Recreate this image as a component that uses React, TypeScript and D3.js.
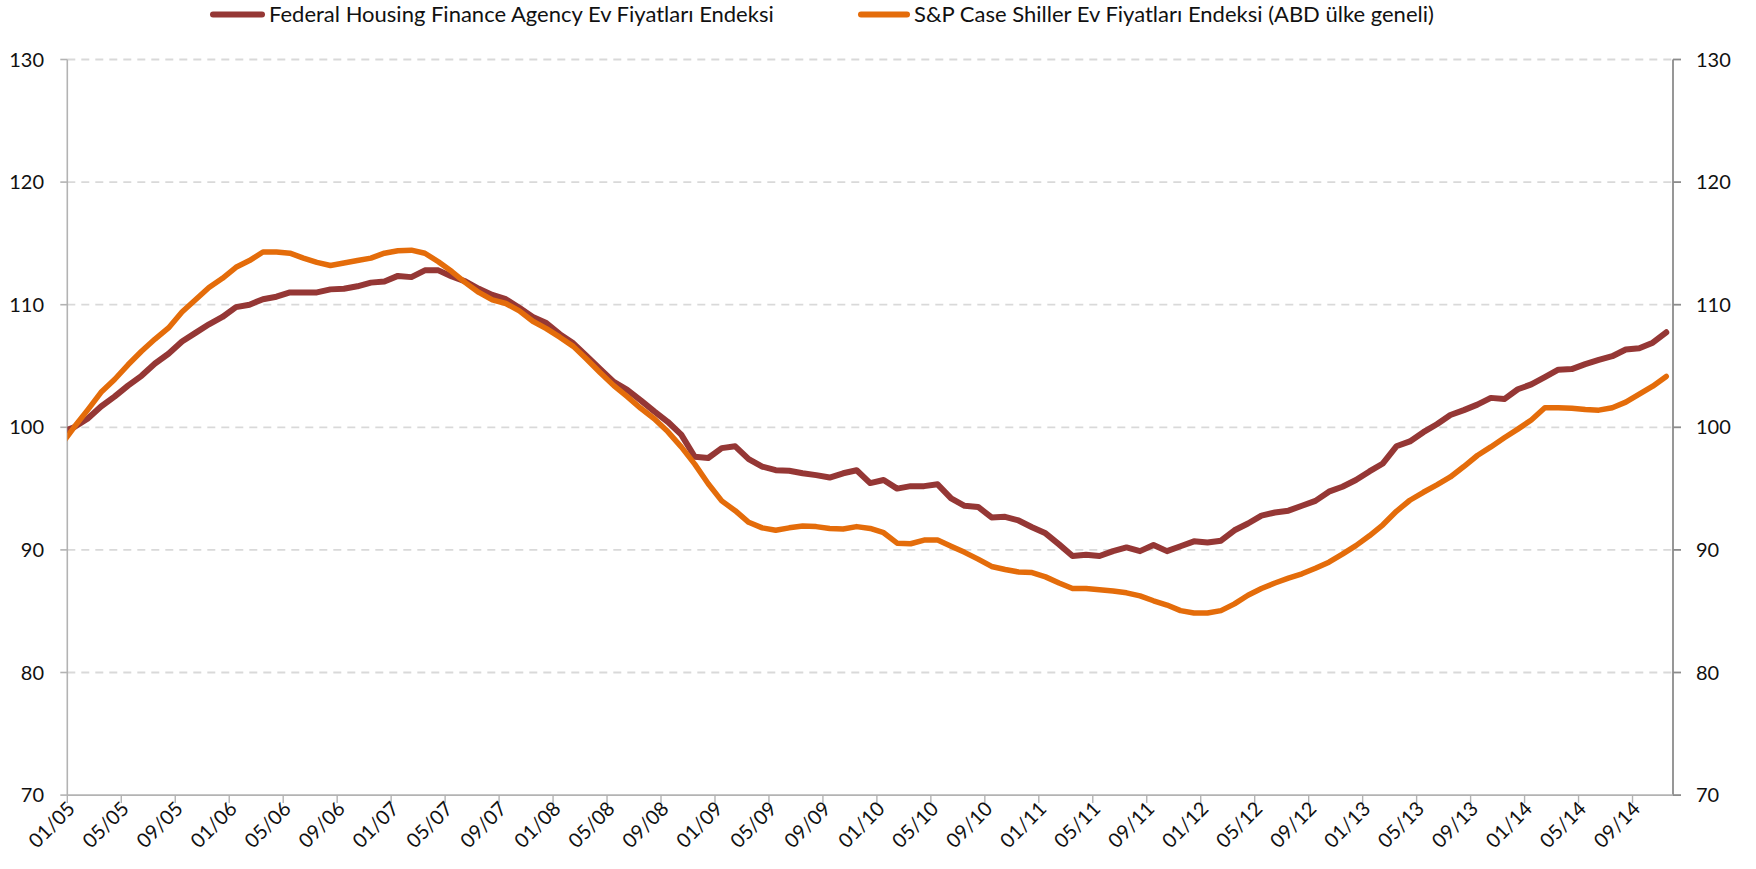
import React from "react";
import * as d3 from "d3";

const tickLabels = ["01/05","05/05","09/05","01/06","05/06","09/06","01/07","05/07","09/07","01/08","05/08","09/08","01/09","05/09","09/09","01/10","05/10","09/10","01/11","05/11","09/11","01/12","05/12","09/12","01/13","05/13","09/13","01/14","05/14","09/14"];

const yTicks = [70, 80, 90, 100, 110, 120, 130];

// monthly values, Dec 2004 .. Nov 2014
const fhfa = [99.6,
  100.0,100.7,101.7,102.5,103.4,104.2,105.2,106.0,107.0,107.7,108.4,109.0,
  109.8,110.0,110.45,110.65,111.0,111.0,111.0,111.25,111.3,111.5,111.8,111.9,
  112.35,112.25,112.8,112.8,112.3,111.9,111.3,110.8,110.45,109.75,109.0,108.5,
  107.6,106.85,105.8,104.75,103.7,103.05,102.2,101.3,100.45,99.4,97.6,97.5,
  98.3,98.45,97.4,96.8,96.5,96.45,96.25,96.1,95.9,96.25,96.5,95.45,
  95.7,95.0,95.2,95.2,95.35,94.2,93.6,93.5,92.65,92.7,92.4,91.85,
  91.35,90.45,89.5,89.6,89.5,89.9,90.2,89.9,90.4,89.9,90.3,90.7,
  90.6,90.75,91.6,92.15,92.8,93.05,93.2,93.6,94.0,94.75,95.15,95.7,
  96.4,97.05,98.45,98.85,99.6,100.25,101.0,101.4,101.85,102.4,102.3,103.1,
  103.5,104.1,104.7,104.75,105.15,105.5,105.8,106.35,106.45,106.9,107.75];

const caseShiller = [98.5,
  100.0,101.4,102.85,103.9,105.1,106.2,107.2,108.1,109.4,110.4,111.4,112.15,
  113.05,113.6,114.3,114.3,114.2,113.8,113.45,113.2,113.4,113.6,113.8,114.2,
  114.4,114.45,114.2,113.5,112.7,111.8,111.0,110.4,110.1,109.5,108.65,108.05,
  107.35,106.6,105.55,104.45,103.4,102.5,101.55,100.7,99.65,98.4,97.0,95.4,
  94.0,93.2,92.25,91.8,91.6,91.8,91.95,91.9,91.75,91.7,91.9,91.75,
  91.4,90.55,90.5,90.8,90.8,90.3,89.8,89.25,88.65,88.4,88.2,88.15,
  87.8,87.3,86.85,86.85,86.75,86.65,86.5,86.25,85.85,85.5,85.05,84.85,
  84.85,85.05,85.6,86.3,86.85,87.3,87.7,88.05,88.5,89.0,89.65,90.35,
  91.15,92.05,93.15,94.05,94.7,95.3,95.95,96.8,97.7,98.4,99.15,99.85,
  100.6,101.6,101.6,101.55,101.45,101.4,101.6,102.05,102.7,103.35,104.15];

const seriesNames = ["Federal Housing Finance Agency Ev Fiyatları Endeksi", "S&P Case Shiller Ev Fiyatları Endeksi (ABD ülke geneli)"];
const seriesColors = ["#953735", "#E46C0A"];

const W = 1756, H = 869;
const L = 67.3, R = 1673, T = 59.5, B = 795.1;
const FONT = "Lato, 'Open Sans', sans-serif";

export default function App() {
  const x = d3.scaleLinear().domain([0, 119]).range([L, R]);
  const y = d3.scaleLinear().domain([70, 130]).range([B, T]);
  const line = d3.line<number>()
    .x((_, i) => x(i - 0.5))
    .y((d) => y(d));
  const allSeries = [fhfa, caseShiller];
  const widths = [6, 5.5];

  return (
    <svg width={W} height={H} style={{ position: "absolute", left: 0, top: 0, background: "#fff" }} fontFamily={FONT}>
      <defs>
        <clipPath id="plot">
          <rect x={L} y={0} width={R - L} height={H} />
        </clipPath>
      </defs>
      {/* gridlines */}
      {yTicks.filter(v => v > 70).map(v => (
        <line key={v} x1={L} x2={R} y1={y(v)} y2={y(v)} stroke="#d9d9d9" strokeWidth={1.8} strokeDasharray="8,6" />
      ))}
      {/* left axis */}
      <line x1={L} x2={L} y1={T} y2={B} stroke="#b3b3b3" strokeWidth={1.6} />
      {yTicks.map(v => (
        <g key={"l" + v}>
          <line x1={L - 7} x2={L} y1={y(v)} y2={y(v)} stroke="#b3b3b3" strokeWidth={1.6} />
          <text x={44} y={y(v)} dy="0.35em" textAnchor="end" fontSize={20} fill="#111">{v}</text>
        </g>
      ))}
      {/* right axis */}
      <line x1={R} x2={R} y1={T} y2={B} stroke="#8c8c8c" strokeWidth={1.8} />
      {yTicks.map(v => (
        <g key={"r" + v}>
          <line x1={R} x2={R + 8} y1={y(v)} y2={y(v)} stroke="#8c8c8c" strokeWidth={1.8} />
          <text x={1696} y={y(v)} dy="0.35em" textAnchor="start" fontSize={20} fill="#111">{v}</text>
        </g>
      ))}
      {/* bottom axis */}
      <line x1={L} x2={R} y1={B} y2={B} stroke="#b3b3b3" strokeWidth={1.6} />
      {tickLabels.map((lab, k) => {
        const xx = x(k * 4);
        return (
          <g key={lab}>
            <line x1={xx} x2={xx} y1={B} y2={B + 8} stroke="#b3b3b3" strokeWidth={1.4} />
            <text transform={`translate(${xx + 4},${B + 10}) rotate(-45)`} textAnchor="end" dy="0.35em" fontSize={20} fill="#111">{lab}</text>
          </g>
        );
      })}
      {/* lines */}
      <g clipPath="url(#plot)">
        {allSeries.map((s, i) => (
          <path key={i} d={line(s) || ""} fill="none" stroke={seriesColors[i]} strokeWidth={widths[i]} strokeLinejoin="round" strokeLinecap="round" />
        ))}
      </g>
      {/* legend */}
      <g>
        <line x1={213} x2={262} y1={14.5} y2={14.5} stroke={seriesColors[0]} strokeWidth={6} strokeLinecap="round" />
        <text x={269} y={14.5} dy="0.35em" fontSize={22} fill="#111">{seriesNames[0]}</text>
        <line x1={861} x2={907} y1={14.5} y2={14.5} stroke={seriesColors[1]} strokeWidth={6} strokeLinecap="round" />
        <text x={914} y={14.5} dy="0.35em" fontSize={22} fill="#111">{seriesNames[1]}</text>
      </g>
    </svg>
  );
}
